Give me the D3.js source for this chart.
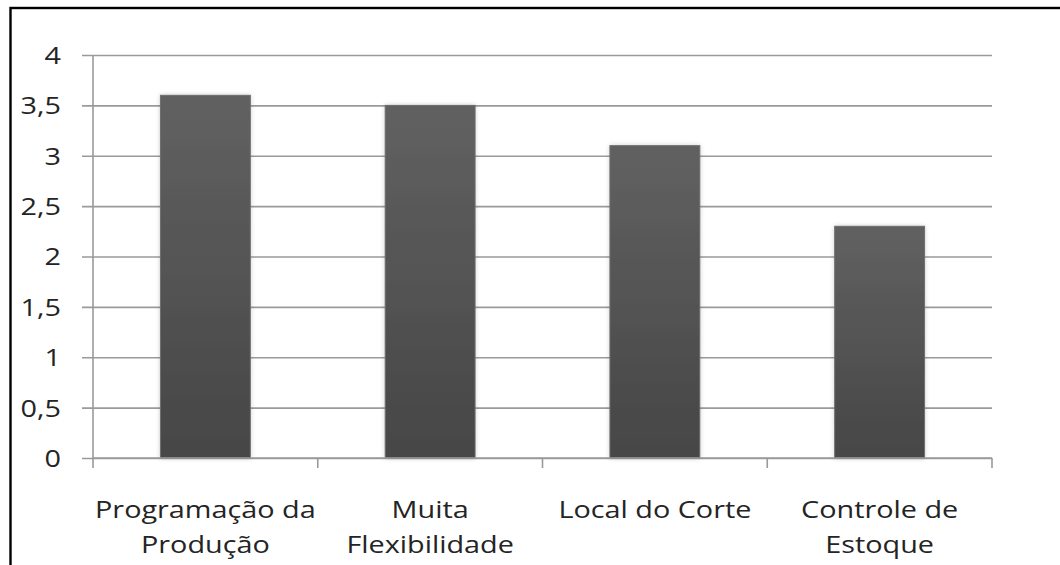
<!DOCTYPE html>
<html>
<head>
<meta charset="utf-8">
<script src="https://cdn.jsdelivr.net/npm/d3@7"></script>
<style>
  html, body { margin: 0; padding: 0; background: #fff; }
  svg { display: block; }
  text { font-family: "Open Sans", "DejaVu Sans", sans-serif; fill: #242424; }
</style>
</head>
<body>
<svg id="chart" width="1060" height="565"></svg>
<script>
// Categories (two-line labels) and their scores
const categories = ["Programação da Produção", "Muita Flexibilidade", "Local do Corte", "Controle de Estoque"];
const labelLines = [["Programação da", "Produção"], ["Muita", "Flexibilidade"], ["Local do Corte"], ["Controle de", "Estoque"]];
const values = [3.6, 3.5, 3.1, 2.3];
const yTicks = [0, 0.5, 1, 1.5, 2, 2.5, 3, 3.5, 4];
const yTickLabels = ["0", "0,5", "1", "1,5", "2", "2,5", "3", "3,5", "4"];

const svg = d3.select("#chart");
const plot = { left: 93, right: 992, top: 55, bottom: 458 };
const stretch = 1.2; // horizontal widening of the label glyphs

const x = d3.scaleBand()
  .domain(categories)
  .range([plot.left, plot.right])
  .paddingInner(0.6)
  .paddingOuter(0.3);

const y = d3.scaleLinear().domain([0, 4]).range([plot.bottom, plot.top]);

// Outer frame
svg.append("rect")
  .attr("x", 10.5).attr("y", 8)
  .attr("width", 1060).attr("height", 600)
  .attr("fill", "none").attr("stroke", "#000").attr("stroke-width", 2.4);

const defs = svg.append("defs");
const grad = defs.append("linearGradient")
  .attr("id", "barFill").attr("x1", 0).attr("y1", 0).attr("x2", 0).attr("y2", 1);
grad.append("stop").attr("offset", "0%").attr("stop-color", "#616161");
grad.append("stop").attr("offset", "100%").attr("stop-color", "#464646");

const shadow = defs.append("filter").attr("id", "glow")
  .attr("x", "-20%").attr("y", "-10%").attr("width", "140%").attr("height", "120%");
shadow.append("feGaussianBlur").attr("in", "SourceAlpha").attr("stdDeviation", 2.5).attr("result", "b");
shadow.append("feComponentTransfer").attr("in", "b").attr("result", "s")
  .append("feFuncA").attr("type", "linear").attr("slope", 0.18);
const merge = shadow.append("feMerge");
merge.append("feMergeNode").attr("in", "s");
merge.append("feMergeNode").attr("in", "SourceGraphic");

// Horizontal gridlines with tick marks on the left
const yAxis = d3.axisLeft(y)
  .tickValues(yTicks)
  .tickSize(-(plot.right - plot.left))
  .tickPadding(0)
  .tickFormat((d, i) => yTickLabels[i]);

const gy = svg.append("g").attr("transform", `translate(${plot.left},0)`).call(yAxis);
gy.select(".domain").remove();
gy.selectAll(".tick line")
  .attr("x1", -11)
  .attr("stroke", "#9a9a9a").attr("stroke-width", 1.6);
gy.selectAll(".tick text")
  .attr("x", null).attr("dy", "0.35em")
  .attr("transform", `translate(-32,0) scale(${stretch},1)`)
  .style("font-size", "24px").style("fill", "#242424");

// Vertical value axis line
svg.append("line")
  .attr("x1", plot.left).attr("x2", plot.left)
  .attr("y1", plot.top).attr("y2", plot.bottom)
  .attr("stroke", "#9a9a9a").attr("stroke-width", 1.6);

// Bars
svg.append("g").selectAll("rect")
  .data(values)
  .join("rect")
  .attr("x", (d, i) => x(categories[i]))
  .attr("width", x.bandwidth())
  .attr("y", d => y(d))
  .attr("height", d => y(0) - y(d))
  .attr("fill", "url(#barFill)")
  .attr("stroke", "#6e6e6e").attr("stroke-width", 1)
  .attr("filter", "url(#glow)");

// Category axis with boundary ticks
const step = x.step();
const boundaries = d3.range(categories.length + 1).map(i => plot.left + i * step);
svg.append("line")
  .attr("x1", plot.left).attr("x2", plot.right)
  .attr("y1", plot.bottom).attr("y2", plot.bottom)
  .attr("stroke", "#9a9a9a").attr("stroke-width", 1.6);
svg.append("g").selectAll("line")
  .data(boundaries)
  .join("line")
  .attr("x1", d => d).attr("x2", d => d)
  .attr("y1", plot.bottom).attr("y2", plot.bottom + 10)
  .attr("stroke", "#9a9a9a").attr("stroke-width", 1.6);

// Category labels
const labels = svg.append("g").selectAll("text")
  .data(categories)
  .join("text")
  .attr("text-anchor", "middle")
  .attr("transform", d => `translate(${x(d) + x.bandwidth() / 2},518) scale(${stretch},1)`)
  .style("font-size", "24px");
labels.selectAll("tspan")
  .data((d, i) => labelLines[i])
  .join("tspan")
  .attr("x", 0)
  .attr("dy", (d, j) => j === 0 ? 0 : 35)
  .text(d => d);
</script>
</body>
</html>
